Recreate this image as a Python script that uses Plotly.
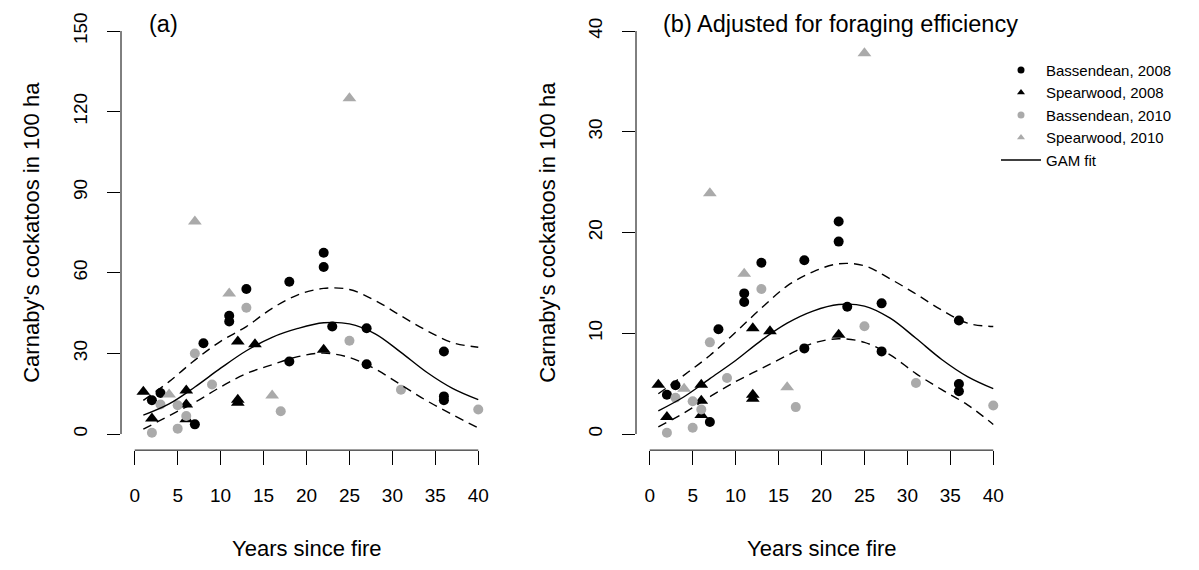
import plotly.graph_objects as go

# ---------------- data ----------------
x_ticks = [0, 5, 10, 15, 20, 25, 30, 35, 40]
ya_ticks = [0, 30, 60, 90, 120, 150]
yb_ticks = [0, 10, 20, 30, 40]

# Bassendean, 2008 (black circles)
bass08_x = [2, 3, 7, 8, 11, 11, 13, 18, 18, 22, 22, 23, 27, 27, 36, 36, 36]
bass08_a = [12.6, 15.3, 3.6, 33.8, 44, 41.9, 54, 56.7, 27, 67.5, 62.2, 40, 39.4, 26, 30.7, 14, 12.6]
bass08_b = [3.9, 4.84, 1.2, 10.4, 13.96, 13.1, 17, 17.25, 8.5, 21.1, 19.1, 12.64, 12.97, 8.2, 11.26, 4.97, 4.25]

# Spearwood, 2008 (black triangles)
spear08_x = [1, 2, 6, 6, 6, 12, 12, 12, 14, 22]
spear08_a = [15.7, 5.8, 16.2, 11.0, 5.5, 34.4, 12.8, 11.6, 33.4, 31.4]
spear08_b = [4.9, 1.7, 4.9, 3.3, 1.9, 10.5, 3.9, 3.5, 10.2, 9.85]

# Bassendean, 2010 (grey circles)
bass10_x = [2, 3, 5, 5, 6, 7, 9, 13, 17, 25, 31, 40]
bass10_a = [0.5, 11, 10.7, 2, 6.7, 30, 18.4, 47, 8.5, 34.7, 16.5, 9.1]
bass10_b = [0.13, 3.6, 3.26, 0.63, 2.44, 9.1, 5.56, 14.4, 2.67, 10.7, 5.07, 2.83]

# Spearwood, 2010 (grey triangles)
spear10_x = [4, 7, 11, 16, 25]
spear10_a = [14.7, 79.1, 52.3, 14.3, 125.0]
spear10_b = [4.5, 23.9, 15.9, 4.64, 37.8]

# GAM fit and confidence bands
gam_x = [1, 4, 7, 10, 13, 16, 19, 22, 25, 28, 31, 34, 37, 40]
fit_a = [7.0, 11.2, 17.5, 24.5, 31, 36, 39.3, 41.4, 41.0, 37.3, 30.4, 23, 17, 12.8]
upr_a = [12.5, 19.5, 27.5, 34.5, 40, 46.8, 51.8, 54.2, 53.8, 49.7, 44, 38.5, 34, 32.3]
lwr_a = [1.8, 6.8, 11.8, 17.5, 22.5, 25.8, 28.8, 30.1, 28.5, 24.2, 18.3, 12.4, 7.2, 2.3]
fit_b = [2.3, 3.7, 5.5, 7.3, 9.3, 11.0, 12.2, 12.85, 12.7, 11.5, 9.5, 7.4, 5.7, 4.5]
upr_b = [4.0, 5.85, 7.8, 10.1, 12.5, 14.7, 16.1, 16.9, 16.7, 15.4, 13.9, 12.3, 11, 10.67]
lwr_b = [0.7, 2.1, 3.7, 5.2, 6.5, 7.8, 9.0, 9.45, 9.1, 7.85, 6.0, 4.4, 2.9, 0.95]

# ---------------- style ----------------
FONT = "Liberation Sans, Arial, sans-serif"
BLACK = "#000000"
GREY = "#aaaaaa"
W, H = 1199, 570

fig = go.Figure()

def add_panel(xa, ya, y08b, y08s, y10b, y10s, fit, upr, lwr):
    for xs, ys, sym, col, size in [
        (bass08_x, y08b, "circle", BLACK, 10),
        (spear08_x, y08s, "triangle-up", BLACK, 12),
        (bass10_x, y10b, "circle", GREY, 10),
        (spear10_x, y10s, "triangle-up", GREY, 12),
    ]:
        fig.add_trace(go.Scatter(x=xs, y=ys, mode="markers", xaxis=xa, yaxis=ya,
                                 marker=dict(symbol=sym, color=col, size=size, line=dict(width=0)),
                                 showlegend=False, hoverinfo="x+y"))
    fig.add_trace(go.Scatter(x=gam_x, y=fit, mode="lines", xaxis=xa, yaxis=ya,
                             line=dict(color=BLACK, width=1.4, shape="spline", smoothing=1.0),
                             showlegend=False))
    for band in (upr, lwr):
        fig.add_trace(go.Scatter(x=gam_x, y=band, mode="lines", xaxis=xa, yaxis=ya,
                                 line=dict(color=BLACK, width=1.4, dash="9px,6px", shape="spline", smoothing=1.0),
                                 showlegend=False))

add_panel("x", "y", bass08_a, spear08_a, bass10_a, spear10_a, fit_a, upr_a, lwr_a)
add_panel("x2", "y2", bass08_b, spear08_b, bass10_b, spear10_b, fit_b, upr_b, lwr_b)

# legend-only entries (small symbols like the original legend)
for name, sym, col in [("Bassendean, 2008", "circle", BLACK),
                       ("Spearwood, 2008", "triangle-up", BLACK),
                       ("Bassendean, 2010", "circle", GREY),
                       ("Spearwood, 2010", "triangle-up", GREY)]:
    fig.add_trace(go.Scatter(x=[None], y=[None], mode="markers", name=name, xaxis="x2", yaxis="y2",
                             marker=dict(symbol=sym, color=col, size=7)))
fig.add_trace(go.Scatter(x=[None], y=[None], mode="lines", name="GAM fit", xaxis="x2", yaxis="y2",
                         line=dict(color=BLACK, width=1.4)))

xdomA = [121 / W, 492 / W]
xdomB = [636 / W, 1007 / W]
ydom = [(H - 449.5) / H, (H - 12) / H]

common_x = dict(range=[-1.6, 41.6], tickvals=x_ticks, ticks="outside", ticklen=14, tickwidth=1,
                tickcolor=BLACK, showgrid=False, zeroline=False, showline=False,
                tickfont=dict(family=FONT, size=19, color=BLACK), ticklabelstandoff=14)
common_y = dict(ticks="outside", ticklen=13, tickwidth=1, tickcolor=BLACK, showgrid=False,
                zeroline=False, showline=False, tickangle=-90,
                tickfont=dict(family=FONT, size=19, color=BLACK), ticklabelstandoff=12)

fig.update_layout(
    width=W, height=H, margin=dict(l=0, r=0, t=0, b=0),
    paper_bgcolor="white", plot_bgcolor="white",
    font=dict(family=FONT, color=BLACK),
    xaxis=dict(domain=xdomA, anchor="y", **common_x),
    yaxis=dict(domain=ydom, anchor="x", range=[-6, 156], tickvals=ya_ticks, **common_y),
    xaxis2=dict(domain=xdomB, anchor="y2", **common_x),
    yaxis2=dict(domain=ydom, anchor="x2", range=[-1.6, 41.6], tickvals=yb_ticks, **common_y),
    legend=dict(x=996 / W, y=1 - 51 / H, xanchor="left", yanchor="top",
                font=dict(family=FONT, size=15, color=BLACK), bgcolor="rgba(0,0,0,0)",
                borderwidth=0, itemwidth=40, tracegroupgap=0),
    showlegend=True,
)

# R-style axis lines spanning first to last tick
for xr, yr, yt in [("x", "y", ya_ticks), ("x2", "y2", yb_ticks)]:
    fig.add_shape(type="line", xref=xr, yref=yr + " domain", x0=x_ticks[0], x1=x_ticks[-1], y0=0, y1=0,
                  line=dict(color=BLACK, width=1))
    fig.add_shape(type="line", xref=xr + " domain", yref=yr, x0=0, x1=0, y0=yt[0], y1=yt[-1],
                  line=dict(color=BLACK, width=1))

# panel titles
for text, xpx in [("(a)", 147), ("(b) Adjusted for foraging efficiency", 661)]:
    fig.add_annotation(xref="paper", yref="paper", x=xpx / W, y=1 - 21 / H, xanchor="left",
                       yanchor="middle", showarrow=False, text=text,
                       font=dict(family=FONT, size=23.5, color=BLACK))

# axis titles
ann = [
    dict(text="Years since fire", x=307 / W, y=1 - 548 / H, xanchor="center"),
    dict(text="Years since fire", x=822 / W, y=1 - 548 / H, xanchor="center"),
    dict(text="Carnaby's cockatoos in 100 ha", x=32 / W, y=1 - 231 / H, xanchor="center", textangle=-90),
    dict(text="Carnaby's cockatoos in 100 ha", x=548 / W, y=1 - 231 / H, xanchor="center", textangle=-90),
]
for a in ann:
    fig.add_annotation(xref="paper", yref="paper", yanchor="middle", showarrow=False,
                       font=dict(family=FONT, size=22, color=BLACK), **a)

fig.write_html("out.html")
